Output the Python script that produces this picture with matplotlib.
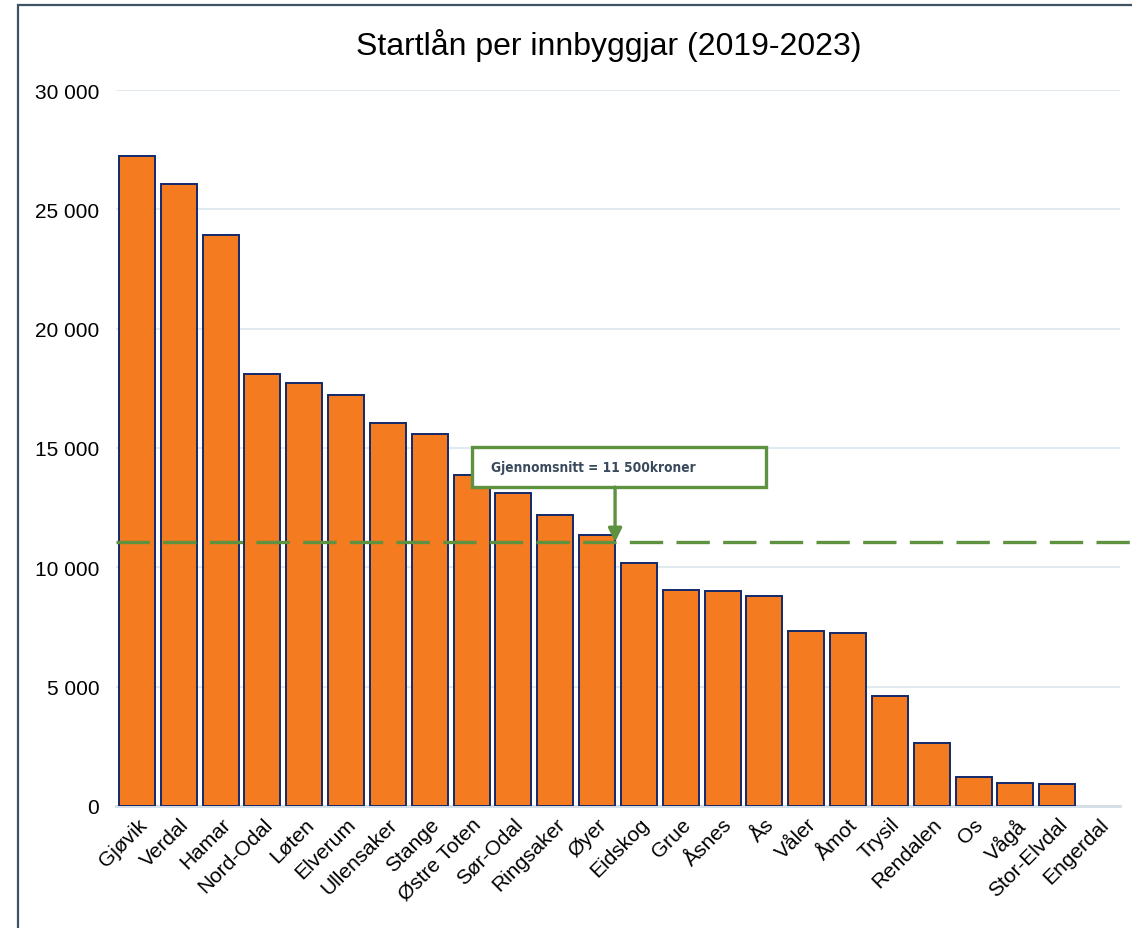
import matplotlib
matplotlib.use("Agg")
import matplotlib.pyplot as plt
from matplotlib.patches import Rectangle
from matplotlib.ticker import FuncFormatter

# data (kroner per innbyggjar)
kommunar = ["Gjøvik", "Verdal", "Hamar", "Nord-Odal", "Løten", "Elverum", "Ullensaker",
            "Stange", "Østre Toten", "Sør-Odal", "Ringsaker", "Øyer", "Eidskog", "Grue",
            "Åsnes", "Ås", "Våler", "Åmot", "Trysil", "Rendalen", "Os", "Vågå",
            "Stor-Elvdal", "Engerdal"]
startlan = [27230, 26060, 23920, 18100, 17720, 17220, 16050, 15580, 13870, 13110, 12190,
            11350, 10180, 9050, 9000, 8800, 7330, 7250, 4610, 2640, 1210, 960, 920, 0]
snitt_linje = 11060
snitt_tekst = "Gjennomsnitt = 11 500kroner"

plt.rcParams['font.family'] = ['Liberation Sans', 'DejaVu Sans']

fig = plt.figure(figsize=(11.32, 9.29), dpi=100)
ax = fig.add_axes([116 / 1132, 1 - 807 / 929, (1120 - 116) / 1132, (807 - 91) / 929])

x = range(len(kommunar))
bars = ax.bar(x, startlan, width=0.86, color="#F47B20", edgecolor="#12296B", linewidth=1.4,
              zorder=3)
# no visible outline for empty bars
for b, v in zip(bars, startlan):
    if v == 0:
        b.set_linewidth(0)

ax.set_xlim(-0.5, len(kommunar) - 0.5)
ax.set_ylim(0, 30000)
ax.set_yticks(range(0, 30001, 5000))
ax.yaxis.set_major_formatter(FuncFormatter(lambda v, p: f"{int(v):,}".replace(",", " ")))
ax.grid(axis="y", color="#DCE6EF", linewidth=1.2, zorder=0)
for s in ["top", "right", "left"]:
    ax.spines[s].set_visible(False)
ax.spines["bottom"].set_color("#D3DEE8")
ax.spines["bottom"].set_linewidth(2)
ax.tick_params(axis="both", length=0, labelsize=15)
ax.tick_params(axis="y", pad=12)
ax.tick_params(axis="x", pad=6)
ax.set_xticks(list(x))
ax.set_xticklabels(kommunar, rotation=45, ha="right", rotation_mode="anchor")

# average line
ax.plot([0, 1.012], [snitt_linje, snitt_linje], transform=ax.get_yaxis_transform(),
        color="#5E9140", linewidth=2.4, dashes=(10, 4), clip_on=False, zorder=4)

# annotation box with arrow
box_l, box_r = 8.01, 15.04
box_b, box_t = 13360, 15040
ax.add_patch(Rectangle((box_l, box_b), box_r - box_l, box_t - box_b, facecolor="white",
                       edgecolor="#5E9140", linewidth=2.4, zorder=6))
ax.text(box_l + 0.45, (box_b + box_t) / 2, snitt_tekst, fontsize=9.8, fontweight="bold",
        color="#3A4A5C", va="center", ha="left", family="DejaVu Sans", fontstretch="condensed",
        zorder=7)
ax.annotate("", xy=(11.43, snitt_linje), xytext=(11.43, box_b),
            arrowprops=dict(arrowstyle="-|>", color="#5E9140", lw=2.4, mutation_scale=20,
                            shrinkA=0, shrinkB=0), zorder=7)

fig.suptitle("Startlån per innbyggjar (2019-2023)", fontsize=23, x=609 / 1132, y=1 - 45 / 929,
             va="center")

# chart frame (only left and top edges are visible in the crop)
fig.patches.append(Rectangle((18 / 1132, -0.1), 1.2, 1 - 6 / 929 + 0.1, transform=fig.transFigure,
                             fill=False, edgecolor="#3E5263", linewidth=1.6, clip_on=False))

fig.savefig("out.png", dpi=100)
